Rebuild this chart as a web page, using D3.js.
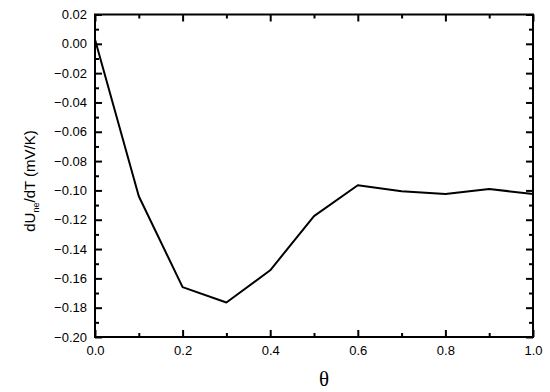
<!DOCTYPE html>
<html>
<head>
<meta charset="utf-8">
<script src="https://cdn.jsdelivr.net/npm/d3@7"></script>
<style>
  body { margin: 0; background: #fff; }
  svg text { font-family: "Liberation Sans", Arial, sans-serif; }
</style>
</head>
<body>
<svg id="chart" width="550" height="392"></svg>
<script>
// values
const theta = [0.0, 0.1, 0.2, 0.3, 0.4, 0.5, 0.6, 0.7, 0.8, 0.9, 1.0];
const dUdT = [0.003, -0.104, -0.166, -0.1765, -0.1545, -0.1175, -0.0965, -0.1005, -0.1025, -0.099, -0.1025];
const xTicks = [0.0, 0.2, 0.4, 0.6, 0.8, 1.0];
const yTicks = [0.02, 0.00, -0.02, -0.04, -0.06, -0.08, -0.10, -0.12, -0.14, -0.16, -0.18, -0.20];
const xMinor = [0.1, 0.3, 0.5, 0.7, 0.9];
const yMinor = [0.01, -0.01, -0.03, -0.05, -0.07, -0.09, -0.11, -0.13, -0.15, -0.17, -0.19];

const margin = { top: 14.5, right: 17, bottom: 55, left: 95 };
const width = 550 - margin.left - margin.right;
const height = 392 - margin.top - margin.bottom;

const svg = d3.select("#chart");
const g = svg.append("g").attr("transform", `translate(${margin.left},${margin.top})`);

const x = d3.scaleLinear().domain([0, 1]).range([0, width]);
const y = d3.scaleLinear().domain([-0.20, 0.02]).range([height, 0]);

// frame
g.append("rect")
  .attr("x", 0).attr("y", 0)
  .attr("width", width).attr("height", height)
  .attr("fill", "none").attr("stroke", "#000").attr("stroke-width", 2);

// axes: labels on bottom/left, inward ticks on all four sides
function styleAxis(sel) {
  sel.select(".domain").remove();
  sel.selectAll(".tick line").attr("stroke", "#000").attr("stroke-width", 2);
  sel.selectAll(".tick text").attr("font-size", 13).attr("fill", "#000");
}
g.append("g").attr("transform", `translate(0,${height})`)
  .call(d3.axisBottom(x).tickValues(xTicks).tickFormat(d3.format(".1f")).tickSize(-7).tickPadding(9))
  .call(styleAxis);
g.append("g").attr("transform", `translate(0,${height})`)
  .call(d3.axisBottom(x).tickValues(xMinor).tickFormat("").tickSize(-4))
  .call(styleAxis);
g.append("g")
  .call(d3.axisTop(x).tickValues(xTicks).tickFormat("").tickSize(-7))
  .call(styleAxis);
g.append("g")
  .call(d3.axisTop(x).tickValues(xMinor).tickFormat("").tickSize(-4))
  .call(styleAxis);
g.append("g")
  .call(d3.axisLeft(y).tickValues(yTicks).tickFormat(d3.format(".2f")).tickSize(-7).tickPadding(8))
  .call(styleAxis);
g.append("g")
  .call(d3.axisLeft(y).tickValues(yMinor).tickFormat("").tickSize(-4))
  .call(styleAxis);
g.append("g").attr("transform", `translate(${width},0)`)
  .call(d3.axisRight(y).tickValues(yTicks).tickFormat("").tickSize(-7))
  .call(styleAxis);
g.append("g").attr("transform", `translate(${width},0)`)
  .call(d3.axisRight(y).tickValues(yMinor).tickFormat("").tickSize(-4))
  .call(styleAxis);

// data line
const line = d3.line()
  .x((d, i) => x(theta[i]))
  .y(d => y(d));

g.append("path")
  .datum(dUdT)
  .attr("d", line)
  .attr("fill", "none")
  .attr("stroke", "#000")
  .attr("stroke-width", 2)
  .attr("stroke-linejoin", "round");

// axis titles
svg.append("text")
  .attr("x", 324)
  .attr("y", 386)
  .attr("text-anchor", "middle")
  .attr("font-size", 21)
  .style("font-family", "'Liberation Serif', 'Times New Roman', serif")
  .text("θ");

const yt = svg.append("text")
  .attr("transform", "translate(35,181) rotate(-90)")
  .attr("text-anchor", "middle")
  .attr("font-size", 15);
yt.append("tspan").text("dU");
yt.append("tspan").attr("font-size", 9).attr("dy", 4).text("ne");
yt.append("tspan").attr("dy", -4).text("/dT (mV/K)");
</script>
</body>
</html>
